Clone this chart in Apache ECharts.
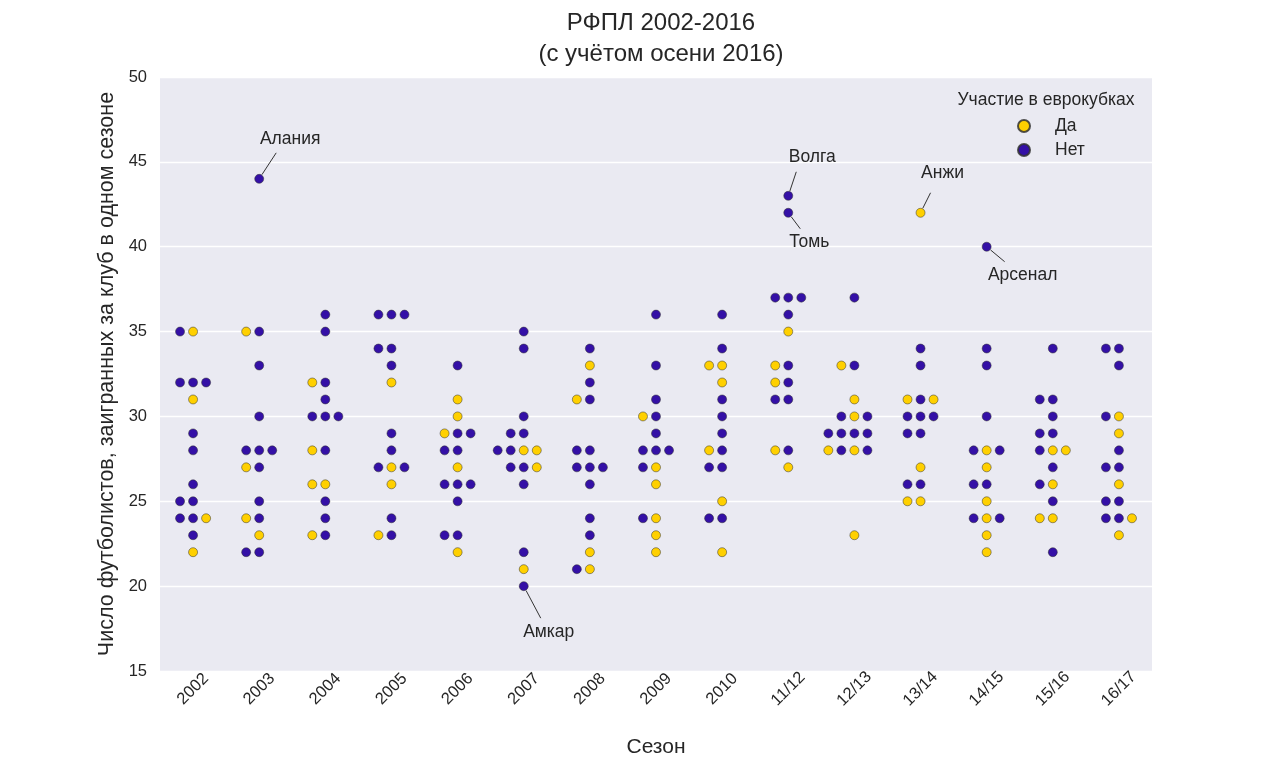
<!DOCTYPE html>
<html><head><meta charset="utf-8">
<script src="https://cdn.jsdelivr.net/npm/echarts@6.0.0/dist/echarts.min.js"></script>
<style>html,body{margin:0;background:#fff}#c{width:1280px;height:768px}</style>
</head><body><div id="c"></div>
<script>
// ---- data ----
const seasons = ['2002','2003','2004','2005','2006','2007','2008','2009','2010','11/12','12/13','13/14','14/15','15/16','16/17'];
// [players used, euro cups participation 1 = Да, 0 = Нет], listed in data order
const s2002 = [[35,1],[35,0],[32,0],[32,0],[32,0],[31,1],[29,0],[28,0],[26,0],[25,0],[25,0],[24,0],[24,0],[24,1],[23,0],[22,1]];
const s2003 = [[44,0],[35,0],[35,1],[33,0],[30,0],[28,0],[28,0],[28,0],[27,0],[27,1],[25,0],[24,0],[24,1],[23,1],[22,0],[22,0]];
const s2004 = [[36,0],[35,0],[32,0],[32,1],[31,0],[30,0],[30,0],[30,0],[28,0],[28,1],[26,1],[26,1],[25,0],[24,0],[23,0],[23,1]];
const s2005 = [[36,0],[36,0],[36,0],[34,0],[34,0],[33,0],[32,1],[29,0],[28,0],[27,1],[27,0],[27,0],[26,1],[24,0],[23,0],[23,1]];
const s2006 = [[33,0],[31,1],[30,1],[29,0],[29,1],[29,0],[28,0],[28,0],[27,1],[26,0],[26,0],[26,0],[25,0],[23,0],[23,0],[22,1]];
const s2007 = [[35,0],[34,0],[30,0],[29,0],[29,0],[28,1],[28,0],[28,1],[28,0],[27,0],[27,0],[27,1],[26,0],[22,0],[21,1],[20,0]];
const s2008 = [[34,0],[33,1],[32,0],[31,0],[31,1],[28,0],[28,0],[27,0],[27,0],[27,0],[26,0],[24,0],[23,0],[22,1],[21,1],[21,0]];
const s2009 = [[36,0],[33,0],[31,0],[30,0],[30,1],[29,0],[28,0],[28,0],[28,0],[27,1],[27,0],[26,1],[24,1],[24,0],[23,1],[22,1]];
const s2010 = [[36,0],[34,0],[33,1],[33,1],[32,1],[31,0],[30,0],[29,0],[28,0],[28,1],[27,0],[27,0],[25,1],[24,0],[24,0],[22,1]];
const s1112 = [[43,0],[42,0],[37,0],[37,0],[37,0],[36,0],[35,1],[33,0],[33,1],[32,0],[32,1],[31,0],[31,0],[28,0],[28,1],[27,1]];
const s1213 = [[37,0],[33,0],[33,1],[31,1],[30,1],[30,0],[30,0],[29,0],[29,0],[29,0],[29,0],[28,1],[28,0],[28,0],[28,1],[23,1]];
const s1314 = [[42,1],[34,0],[33,0],[31,0],[31,1],[31,1],[30,0],[30,0],[30,0],[29,0],[29,0],[27,1],[26,0],[26,0],[25,1],[25,1]];
const s1415 = [[40,0],[34,0],[33,0],[30,0],[28,1],[28,0],[28,0],[27,1],[26,0],[26,0],[25,1],[24,1],[24,0],[24,0],[23,1],[22,1]];
const s1516 = [[34,0],[31,0],[31,0],[30,0],[29,0],[29,0],[28,1],[28,0],[28,1],[27,0],[26,1],[26,0],[25,0],[24,1],[24,1],[22,0]];
const s1617 = [[34,0],[34,0],[33,0],[30,1],[30,0],[29,1],[28,0],[27,0],[27,0],[26,1],[25,0],[25,0],[24,0],[24,0],[24,1],[23,1]];
const seasonPoints = [s2002,s2003,s2004,s2005,s2006,s2007,s2008,s2009,s2010,s1112,s1213,s1314,s1415,s1516,s1617];

const annLabels = ['Алания','Волга','Томь','Анжи','Арсенал','Амкар'];
const annSeasons = ['2003','11/12','11/12','13/14','14/15','2007'];
const annValues = [44,43,42,42,40,20];

// ---- layout (styling, not data) ----
const annLayout = [ // text offset and line end offset in px relative to the point
  {tx:31, ty:-40, lx:17, ly:-26},
  {tx:24, ty:-39, lx:8, ly:-24},
  {tx:21, ty:29, lx:12, ly:16},
  {tx:22, ty:-40, lx:10, ly:-20},
  {tx:36, ty:28, lx:18, ly:15},
  {tx:25, ty:46, lx:17, ly:32}
];
const SWARM_STEP = 0.197;
const YELLOW = '#FFD000', BLUE = '#3410A6';
const TXT = '#262626';
const FONT = '"Liberation Sans", Arial, sans-serif';

const yes = [], no = [];
seasonPoints.forEach((pts, i) => {
  const cnt = {};
  pts.forEach(([v, e]) => {
    const k = cnt[v] || 0; cnt[v] = k + 1;
    const off = k === 0 ? 0 : (k % 2 === 1 ? -Math.ceil(k / 2) : Math.ceil(k / 2)) * SWARM_STEP;
    (e ? yes : no).push([i + off, v]);
  });
});

const chart = echarts.init(document.getElementById('c'), null, {renderer: 'canvas'});
const ptStyle = c => ({color: c, opacity: 1, borderColor: 'rgba(50,50,50,0.85)', borderWidth: 0.6});
chart.setOption({
  animation: false,
  textStyle: {fontFamily: FONT, color: TXT},
  title: {
    text: 'РФПЛ 2002-2016\n(с учётом осени 2016)',
    left: 656, top: 3, textAlign: 'center',
    textStyle: {fontSize: 24, fontWeight: 'normal', color: TXT, lineHeight: 31, fontFamily: FONT}
  },
  grid: {left: 160, right: 128, top: 77, bottom: 97, show: true, backgroundColor: '#EAEAF2', borderWidth: 0},
  legend: {
    orient: 'vertical', left: 1012, top: 112, itemWidth: 12, itemHeight: 12, itemGap: 6,
    icon: 'circle',
    textStyle: {fontSize: 17.5, color: TXT, fontFamily: FONT, padding: [0, 0, 0, 20]},
    data: ['Да', 'Нет']
  },
  xAxis: [
    {
      type: 'category', data: seasons, boundaryGap: true, position: 'bottom',
      axisLine: {show: false}, axisTick: {show: false}, splitLine: {show: false},
      axisLabel: {rotate: 45, fontSize: 16.5, color: TXT, margin: 18, align: 'center', verticalAlign: 'middle', fontFamily: FONT},
      name: 'Сезон', nameLocation: 'middle', nameGap: 66,
      nameTextStyle: {fontSize: 21, color: TXT, fontFamily: FONT}
    },
    {type: 'value', min: -0.5, max: 14.5, show: false}
  ],
  yAxis: {
    type: 'value', min: 15, max: 50, interval: 5,
    axisLine: {show: false}, axisTick: {show: false},
    splitLine: {lineStyle: {color: '#ffffff', width: 1.4}},
    axisLabel: {fontSize: 16.5, color: TXT, margin: 13, fontFamily: FONT},
    name: 'Число футболистов, заигранных за клуб в одном сезоне',
    nameLocation: 'middle', nameGap: 37,
    nameTextStyle: {fontSize: 21.5, color: TXT, fontFamily: FONT}
  },
  series: [
    {name: 'Да', type: 'scatter', xAxisIndex: 1, data: yes, symbolSize: 9, itemStyle: ptStyle(YELLOW)},
    {name: 'Нет', type: 'scatter', xAxisIndex: 1, data: no, symbolSize: 9, itemStyle: ptStyle(BLUE)}
  ]
});

const graphics = [{
  type: 'text', silent: true,
  style: {text: 'Участие в еврокубках', x: 1046, y: 100, align: 'center', verticalAlign: 'middle', fontSize: 17.5, fill: TXT, fontFamily: FONT}
}];
annLabels.forEach((name, j) => {
  const p = chart.convertToPixel({xAxisIndex: 1, yAxisIndex: 0}, [seasons.indexOf(annSeasons[j]), annValues[j]]);
  const L = annLayout[j];
  const len = Math.hypot(L.lx, L.ly);
  graphics.push({
    type: 'line', silent: true,
    shape: {x1: p[0] + L.lx / len * 5, y1: p[1] + L.ly / len * 5, x2: p[0] + L.lx, y2: p[1] + L.ly},
    style: {stroke: '#333', lineWidth: 1}
  });
  graphics.push({
    type: 'text', silent: true,
    style: {text: name, x: p[0] + L.tx, y: p[1] + L.ty, align: 'center', verticalAlign: 'middle', fontSize: 17.5, fill: TXT, fontFamily: FONT}
  });
});
chart.setOption({graphic: graphics});
</script></body></html>
